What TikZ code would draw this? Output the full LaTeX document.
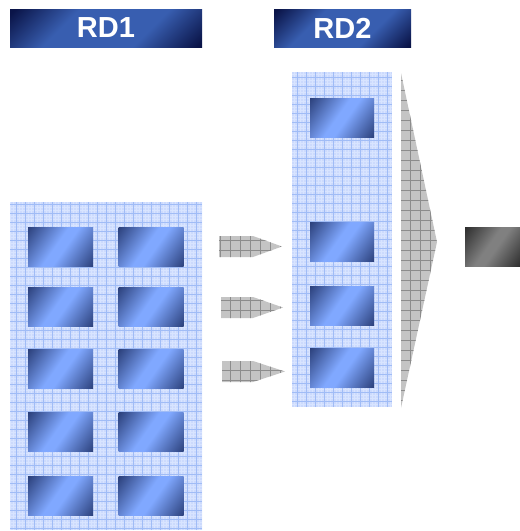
\documentclass[tikz,border=0pt]{standalone}
\usepackage{fontspec}
\setmainfont{Liberation Sans}
\definecolor{navy}{RGB}{10,20,72}
\definecolor{bannerblue}{RGB}{56,94,176}
\definecolor{boxdark}{RGB}{40,60,118}
\definecolor{boxlight}{RGB}{128,168,255}
\definecolor{panelbg}{RGB}{204,218,253}
\definecolor{panelfine}{RGB}{216,228,255}
\definecolor{panelline}{RGB}{160,188,246}
\definecolor{graybg}{RGB}{196,196,196}
\definecolor{grayline}{RGB}{140,140,140}
\definecolor{outdark}{RGB}{42,42,42}
\definecolor{outlight}{RGB}{128,128,128}
\pgfdeclareverticalshading{bannershade}{100bp}{color(0bp)=(navy); color(16bp)=(navy); color(36bp)=(bannerblue); color(64bp)=(bannerblue); color(84bp)=(navy); color(100bp)=(navy)}
\pgfdeclareverticalshading{boxshade}{100bp}{color(0bp)=(boxdark); color(14bp)=(boxdark); color(46bp)=(boxlight); color(54bp)=(boxlight); color(86bp)=(boxdark); color(100bp)=(boxdark)}
\pgfdeclareverticalshading{outshade}{100bp}{color(0bp)=(outdark); color(14bp)=(outdark); color(46bp)=(outlight); color(54bp)=(outlight); color(86bp)=(outdark); color(100bp)=(outdark)}
\tikzset{
  banner/.style={shading=bannershade, shading angle=45, inner sep=0pt,
    text=white, font=\bfseries\fontsize{29}{29}\selectfont},
  panel/.style={fill=panelbg, inner sep=0pt,
    path picture={
      \draw[panelfine, line width=0.4pt, step=3pt]
        (path picture bounding box.south west) grid (path picture bounding box.north east);
      \draw[panelline, line width=0.8pt, step=9pt]
        (path picture bounding box.south west) grid (path picture bounding box.north east);}},
  bluebox/.style={shading=boxshade, shading angle=55, inner sep=0pt,
    minimum width=65pt, minimum height=39pt},
  outbox/.style={shading=outshade, shading angle=55, inner sep=0pt,
    minimum width=55pt, minimum height=39pt},
  grayfill/.style={fill=graybg},
  graygrid/.style={grayline, line width=0.8pt, step=10pt}
}
\begin{document}
\begin{tikzpicture}[x=1pt,y=-1pt]
\useasboundingbox (0,0) rectangle (520,531);
% banners
\node[banner, minimum width=192pt, minimum height=38pt] (rd1) at (106,28) {RD1};
\node[banner, minimum width=137pt, minimum height=38pt] (rd2) at (342.5,28) {RD2};
% panels
\node[panel, minimum width=192pt, minimum height=328pt] (p1) at (106,366) {};
\node[panel, minimum width=100pt, minimum height=335pt] (p2) at (342,239.5) {};
% RD1 boxes
\foreach \r/\y in {1/246.5,2/306.5,3/369,4/432,5/496}{
  \node[bluebox] (a\r) at (60.5,\y) {};
  \node[bluebox] (b\r) at (151,\y) {};
}
% RD2 boxes
\foreach \r/\y in {1/117.5,2/241.5,3/305.5,4/367.5}{
  \node[bluebox, minimum width=64pt] (c\r) at (342,\y) {};
}
% output
\node[outbox] (out) at (492.5,246.5) {};
% block arrows between panels
\foreach \i/\xs/\yt/\xt in {1/219/236/282, 2/221/297/283, 3/222/361/285}{
  \coordinate (s\i) at (\xs,\yt);
  \begin{scope}
    \path[clip] (\xs,\yt) -- (253,\yt) -- (\xt,\yt+10.5) -- (253,\yt+21) -- (\xs,\yt+21) -- cycle;
    \fill[grayfill] (\xs-2,\yt-2) rectangle (\xt+2,\yt+23);
    \draw[graygrid] (\xs-2,\yt-2) grid (\xt+2,\yt+23);
  \end{scope}
}
% large merging triangle
\coordinate (t1) at (401,73);
\coordinate (t2) at (437,242);
\coordinate (t3) at (401,408);
\begin{scope}
  \path[clip] (t1) -- (t2) -- (t3) -- cycle;
  \fill[grayfill] (399,70) rectangle (440,410);
  \draw[graygrid] (399,70) grid (440,410);
\end{scope}
\end{tikzpicture}
\end{document}
